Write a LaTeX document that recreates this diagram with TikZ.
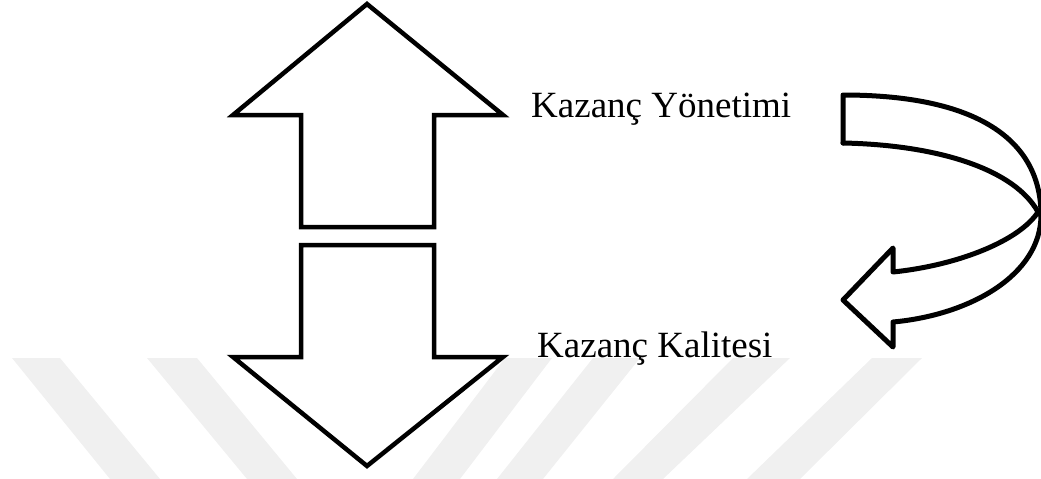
\documentclass[tikz,border=0pt]{standalone}
\usepackage{fontspec}
\setmainfont{Liberation Serif}
\begin{document}
\begin{tikzpicture}[x=1pt,y=-1pt,
  wm/.style={fill=black!6,draw=none},
  blockarrow/.style={draw=black,fill=white,line width=4.5pt,line join=miter},
  curvearrow/.style={draw=black,line width=5pt,line join=round,line cap=round},
  lbl/.style={anchor=base west,inner sep=0pt,font=\fontsize{37}{40}\selectfont}]
\useasboundingbox (0,0) rectangle (1041,479);
% faint watermark stripes
\fill[wm] (12,358) -- (60,358) -- (160,479) -- (110,479) -- cycle;
\fill[wm] (147,358) -- (197,358) -- (297,479) -- (247,479) -- cycle;
\fill[wm] (505,358) -- (552,358) -- (460,479) -- (413,479) -- cycle;
\fill[wm] (593,358) -- (640,358) -- (543,479) -- (497,479) -- cycle;
\fill[wm] (733,358) -- (790,358) -- (663,479) -- (613,479) -- cycle;
\fill[wm] (872,358) -- (922,358) -- (800,479) -- (747,479) -- cycle;
% up block arrow
\draw[blockarrow] (367,4) -- (503,115) -- (434,115) -- (434,227) -- (301,227) -- (301,115) -- (233,115) -- cycle;
% down block arrow
\draw[blockarrow] (301,245) -- (434,245) -- (434,357) -- (503,357) -- (367,466) -- (233,357) -- (301,357) -- cycle;
% curved arrow
\coordinate (tailT) at (843,95);
\coordinate (tailB) at (843,143);
\coordinate (meet) at (1038,212);
\coordinate (right) at (1041,215);
\coordinate (lowB) at (893,322);
\coordinate (barbL) at (893,347);
\coordinate (tip) at (843,300);
\coordinate (barbU) at (893,248);
\coordinate (inB) at (893,272);
\draw[curvearrow] (tailB) -- (tailT) .. controls (985,95) and (1041,145) .. (right)
  .. controls (1041,275) and (970,315) .. (lowB) -- (barbL) -- (tip) -- (barbU) -- (inB)
  .. controls (960,265) and (1020,240) .. (meet);
\draw[curvearrow] (tailB) .. controls (940,145) and (1015,170) .. (meet);
% labels
\node[lbl] (yon) at (531,117) {Kazanç Yönetimi};
\node[lbl] (kal) at (537,357) {Kazanç Kalitesi};
\end{tikzpicture}
\end{document}
